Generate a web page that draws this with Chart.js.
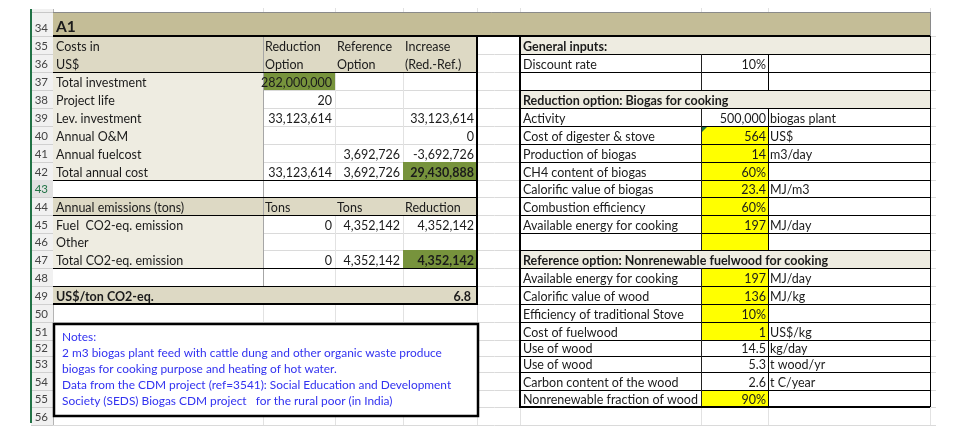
<!DOCTYPE html>
<html lang="en">
<head>
<meta charset="UTF-8">
<title>A1 - Biogas for cooking</title>
<script src="https://cdn.jsdelivr.net/npm/chart.js"></script>
<style>
  html, body { margin: 0; padding: 0; background: #fff; }
  #wrap { width: 955px; height: 439px; }
</style>
</head>
<body>
<div id="wrap"><canvas id="sheet" width="955" height="439"></canvas></div>
<script>
// sheet rows shown
const rowNumbers = [34, 35, 36, 37, 38, 39, 40, 41, 42, 43, 44, 45, 46, 47, 48, 49, 50, 51, 52, 53, 54, 55, 56];
const sheetTitle = 'A1';

// left table, rows 35..49
const costLabels = ['Costs in', 'US$', 'Total investment', 'Project life', 'Lev. investment', 'Annual O&M',
  'Annual fuelcost', 'Total annual cost', '', 'Annual emissions (tons)', 'Fuel  CO2-eq. emission', 'Other',
  'Total CO2-eq. emission', '', 'US$/ton CO2-eq.'];
const reductionOption = ['Reduction', 'Option', 282000000, 20, 33123614, null, null, 33123614, null, 'Tons', 0, null, 0, null, null];
const referenceOption = ['Reference', 'Option', null, null, null, null, 3692726, 3692726, null, 'Tons', 4352142, null, 4352142, null, null];
const increase = ['Increase', '(Red.-Ref.)', null, null, 33123614, 0, -3692726, 29430888, null, 'Reduction', 4352142, null, 4352142, null, 6.8];

// right table, rows 35..55
const inputLabels = ['General inputs:', 'Discount rate', '', 'Reduction option: Biogas for cooking', 'Activity',
  'Cost of digester & stove', 'Production of biogas', 'CH4 content of biogas', 'Calorific value of biogas',
  'Combustion efficiency', 'Available energy for cooking', '', 'Reference option: Nonrenewable fuelwood for cooking',
  'Available energy for cooking', 'Calorific value of wood', 'Efficiency of traditional Stove', 'Cost of fuelwood',
  'Use of wood', 'Use of wood', 'Carbon content of the wood', 'Nonrenewable fraction of wood'];
const inputValues = [null, '10%', null, null, 500000, 564, 14, '60%', 23.4, '60%', 197, null, null,
  197, 136, '10%', 1, 14.5, 5.3, 2.6, '90%'];
const inputUnits = ['', '', '', '', 'biogas plant', 'US$', 'm3/day', '', 'MJ/m3', '', 'MJ/day', '', '',
  'MJ/day', 'MJ/kg', '', 'US$/kg', 'kg/day', 't wood/yr', 't C/year', ''];
const inputHeaderRows = [35, 38, 47];
const yellowRows = [40, 41, 42, 43, 44, 45, 46, 48, 49, 50, 51, 55];

const notes = ['Notes:',
  '2 m3 biogas plant feed with cattle dung and other organic waste produce',
  'biogas for cooking purpose and heating of hot water.',
  'Data from the CDM project (ref=3541): Social Education and Development',
  'Society (SEDS) Biogas CDM project   for the rural poor (in India)'];

// layout (sheet points)
const FONT = 'Lato, "Open Sans", sans-serif';
const colX = { hdr: 31, A: 53, B: 263, C: 335, D: 403, E: 477, F: 520, G: 701, H: 768, end: 930, grid: 936 };
const rowHeights = [24, 18, 18, 18, 18, 18, 18, 18, 18, 17, 18, 18, 17, 18, 18, 18, 18, 18, 16, 16, 18, 17, 18];
const rowTop = {}, rowH = {};
let acc = 12;
rowNumbers.forEach((r, i) => { rowTop[r] = acc; rowH[r] = rowHeights[i]; acc += rowHeights[i]; });
const sheetBottom = acc;

const fmt = v => typeof v === 'number' ? v.toLocaleString('en-US', { maximumFractionDigits: 1 }) : (v || '');

const sheetPlugin = {
  id: 'sheet',
  afterDraw(chart) {
    const { ctx, scales: { x, y } } = chart;
    const X = v => x.getPixelForValue(v);
    const Y = v => y.getPixelForValue(v);
    const top = r => Y(rowTop[r]);
    const bot = r => Y(rowTop[r] + rowH[r]);
    const crisp = (v, w) => (w % 2 === 1 ? Math.round(v) + 0.5 : Math.round(v));

    function fill(c0, c1, r0, r1, color) {
      ctx.fillStyle = color;
      ctx.fillRect(X(c0), top(r0), X(c1) - X(c0), bot(r1) - top(r0));
    }
    function hline(c0, c1, yp, color, w) {
      ctx.strokeStyle = color; ctx.lineWidth = w;
      ctx.beginPath(); ctx.moveTo(X(c0), crisp(yp, w)); ctx.lineTo(X(c1), crisp(yp, w)); ctx.stroke();
    }
    function vline(xv, y0, y1, color, w) {
      const xp = crisp(X(xv), w);
      ctx.strokeStyle = color; ctx.lineWidth = w;
      ctx.beginPath(); ctx.moveTo(xp, y0); ctx.lineTo(xp, y1); ctx.stroke();
    }
    function text(str, c0, c1, r, align, opt) {
      opt = opt || {};
      const s = fmt(str);
      if (!s) return;
      ctx.font = (opt.bold ? 'bold ' : '') + (opt.size || 12.5) + 'px ' + FONT;
      ctx.fillStyle = opt.color || '#1b1b1b';
      ctx.textBaseline = 'alphabetic';
      ctx.textAlign = align;
      const pad = opt.pad == null ? 3 : opt.pad;
      const xp = align === 'right' ? X(c1) - pad : X(c0) + pad;
      ctx.fillText(s, xp, bot(r) - (opt.lift || 3.5));
    }

    ctx.save();
    ctx.fillStyle = '#fff';
    ctx.fillRect(0, 0, chart.width, chart.height);

    // row headers
    ctx.fillStyle = '#f1f1f1';
    ctx.fillRect(X(colX.hdr), Y(9), X(colX.A) - X(colX.hdr), Y(sheetBottom) - Y(9));
    rowNumbers.forEach(r => {
      if (r === 43) { ctx.fillStyle = '#e2e2e2'; ctx.fillRect(X(colX.hdr), top(r), X(colX.A) - X(colX.hdr), bot(r) - top(r)); }
      hline(colX.hdr, colX.A, bot(r), '#d0d0d0', 1);
      text(r, colX.hdr, colX.A, r, 'right', { size: 11.5, pad: 5, color: r === 43 ? '#217346' : '#444', lift: 4 });
    });
    hline(colX.hdr, colX.A, top(34), '#c8c8c8', 1);
    vline(colX.A, Y(9), Y(sheetBottom), '#b4b4b4', 1);

    // gridlines
    rowNumbers.forEach(r => hline(colX.A, colX.grid, bot(r), '#dadada', 1));
    [colX.B, colX.C, colX.D, colX.E, colX.F, colX.G, colX.H, colX.end].forEach(c =>
      vline(c, Y(8), Y(sheetBottom), '#e2e2e2', 1));

    // title band
    fill(colX.A, colX.end, 34, 34, '#c4bd97');

    // left table fills
    fill(colX.A, colX.E, 35, 36, '#ddd9c4');
    fill(colX.A, colX.B, 37, 42, '#eeece1');
    fill(colX.A, colX.E, 43, 43, '#ffffff');
    fill(colX.A, colX.E, 44, 44, '#ddd9c4');
    fill(colX.A, colX.B, 45, 47, '#eeece1');
    fill(colX.A, colX.B, 48, 48, '#ffffff');
    fill(colX.A, colX.E, 49, 49, '#ddd9c4');
    fill(colX.B, colX.C, 37, 37, '#77933c');
    fill(colX.D, colX.E, 42, 42, '#77933c');
    fill(colX.D, colX.E, 47, 47, '#77933c');

    // right table fills
    fill(colX.F, colX.end, 35, 55, '#ffffff');
    inputHeaderRows.forEach(r => fill(colX.F, colX.end, r, r, '#eeece1'));
    yellowRows.forEach(r => fill(colX.G, colX.H, r, r, '#ffff00'));

    // left table borders
    vline(colX.B, top(35), bot(48), '#a6a6a6', 1);
    [36, 42, 43, 44, 47].forEach(r => hline(colX.A, colX.E, bot(r), '#000', 1));
    hline(colX.A, colX.E, top(49), '#000', 1);
    hline(colX.A, colX.E, bot(49), '#000', 2);
    vline(colX.E, top(35), bot(49) + 1, '#000', 2);

    // right table borders
    for (let r = 35; r <= 55; r++) {
      hline(colX.F, colX.end, bot(r), '#000', 1);
      if (!inputHeaderRows.includes(r)) {
        vline(colX.G, top(r), bot(r), '#222', 1);
        vline(colX.H, top(r), bot(r), '#000', 1);
      }
    }
    vline(colX.end, top(35), bot(55), '#000', 1);
    vline(colX.F, top(35), bot(55) + 1, '#000', 2);
    hline(colX.F, colX.end, bot(55), '#000', 2);

    // title band borders
    hline(colX.A, colX.end, top(34), '#8a8a8a', 1);
    vline(colX.end, top(34), bot(34), '#8a8a8a', 1);
    hline(colX.A, colX.end, bot(34), '#000', 2);

    // comment marker on cost of digester
    ctx.fillStyle = '#217346';
    ctx.beginPath();
    ctx.moveTo(X(colX.G) + 1, top(40) + 1);
    ctx.lineTo(X(colX.G) + 6, top(40) + 1);
    ctx.lineTo(X(colX.G) + 1, top(40) + 6);
    ctx.closePath(); ctx.fill();

    // texts
    text(sheetTitle, colX.A, colX.end, 34, 'left', { bold: true, size: 15.5, lift: 4 });
    costLabels.forEach((s, i) => {
      const r = 35 + i;
      const bold = r === 49;
      text(s, colX.A, colX.B, r, 'left', { bold });
      const cols = [[reductionOption, colX.B, colX.C], [referenceOption, colX.C, colX.D], [increase, colX.D, colX.E]];
      cols.forEach(([arr, c0, c1]) => {
        const v = arr[i];
        const isNum = typeof v === 'number';
        const strong = bold || ((r === 42 || r === 47) && arr === increase);
        text(v, c0, c1, r, isNum ? 'right' : 'left', { bold: strong, pad: r === 49 ? 6 : (isNum ? 3 : 2) });
      });
    });
    inputLabels.forEach((s, i) => {
      const r = 35 + i;
      if (inputHeaderRows.includes(r)) {
        text(s, colX.F, colX.end, r, 'left', { bold: true });
        return;
      }
      text(s, colX.F, colX.G, r, 'left');
      text(inputValues[i], colX.G, colX.H, r, 'right', { pad: 2 });
      text(inputUnits[i], colX.H, colX.end, r, 'left', { pad: 2 });
    });

    // notes box
    const nx0 = X(53), nx1 = X(479), ny0 = Y(323), ny1 = Y(417);
    ctx.fillStyle = '#fff';
    ctx.fillRect(nx0, ny0, nx1 - nx0, ny1 - ny0);
    ctx.strokeStyle = '#000'; ctx.lineWidth = 2.5;
    ctx.strokeRect(nx0 + 1, ny0 + 1, nx1 - nx0 - 2, ny1 - ny0 - 2);
    ctx.font = '11.9px ' + FONT;
    ctx.fillStyle = '#3232f0';
    ctx.textAlign = 'left'; ctx.textBaseline = 'alphabetic';
    notes.forEach((line, i) => ctx.fillText(line, X(62), Y(341 + i * 16)));

    // selection edge
    vline(colX.hdr, Y(9), Y(sheetBottom - 2), '#217346', 2);
    ctx.restore();
  }
};

new Chart(document.getElementById('sheet'), {
  type: 'scatter',
  data: { datasets: [] },
  options: {
    responsive: false,
    animation: false,
    layout: { padding: 0 },
    plugins: { legend: { display: false }, tooltip: { enabled: false } },
    scales: {
      x: { type: 'linear', min: 0, max: 955, display: false },
      y: { type: 'linear', min: 0, max: 439, reverse: true, display: false }
    }
  },
  plugins: [sheetPlugin]
});
</script>
</body>
</html>
